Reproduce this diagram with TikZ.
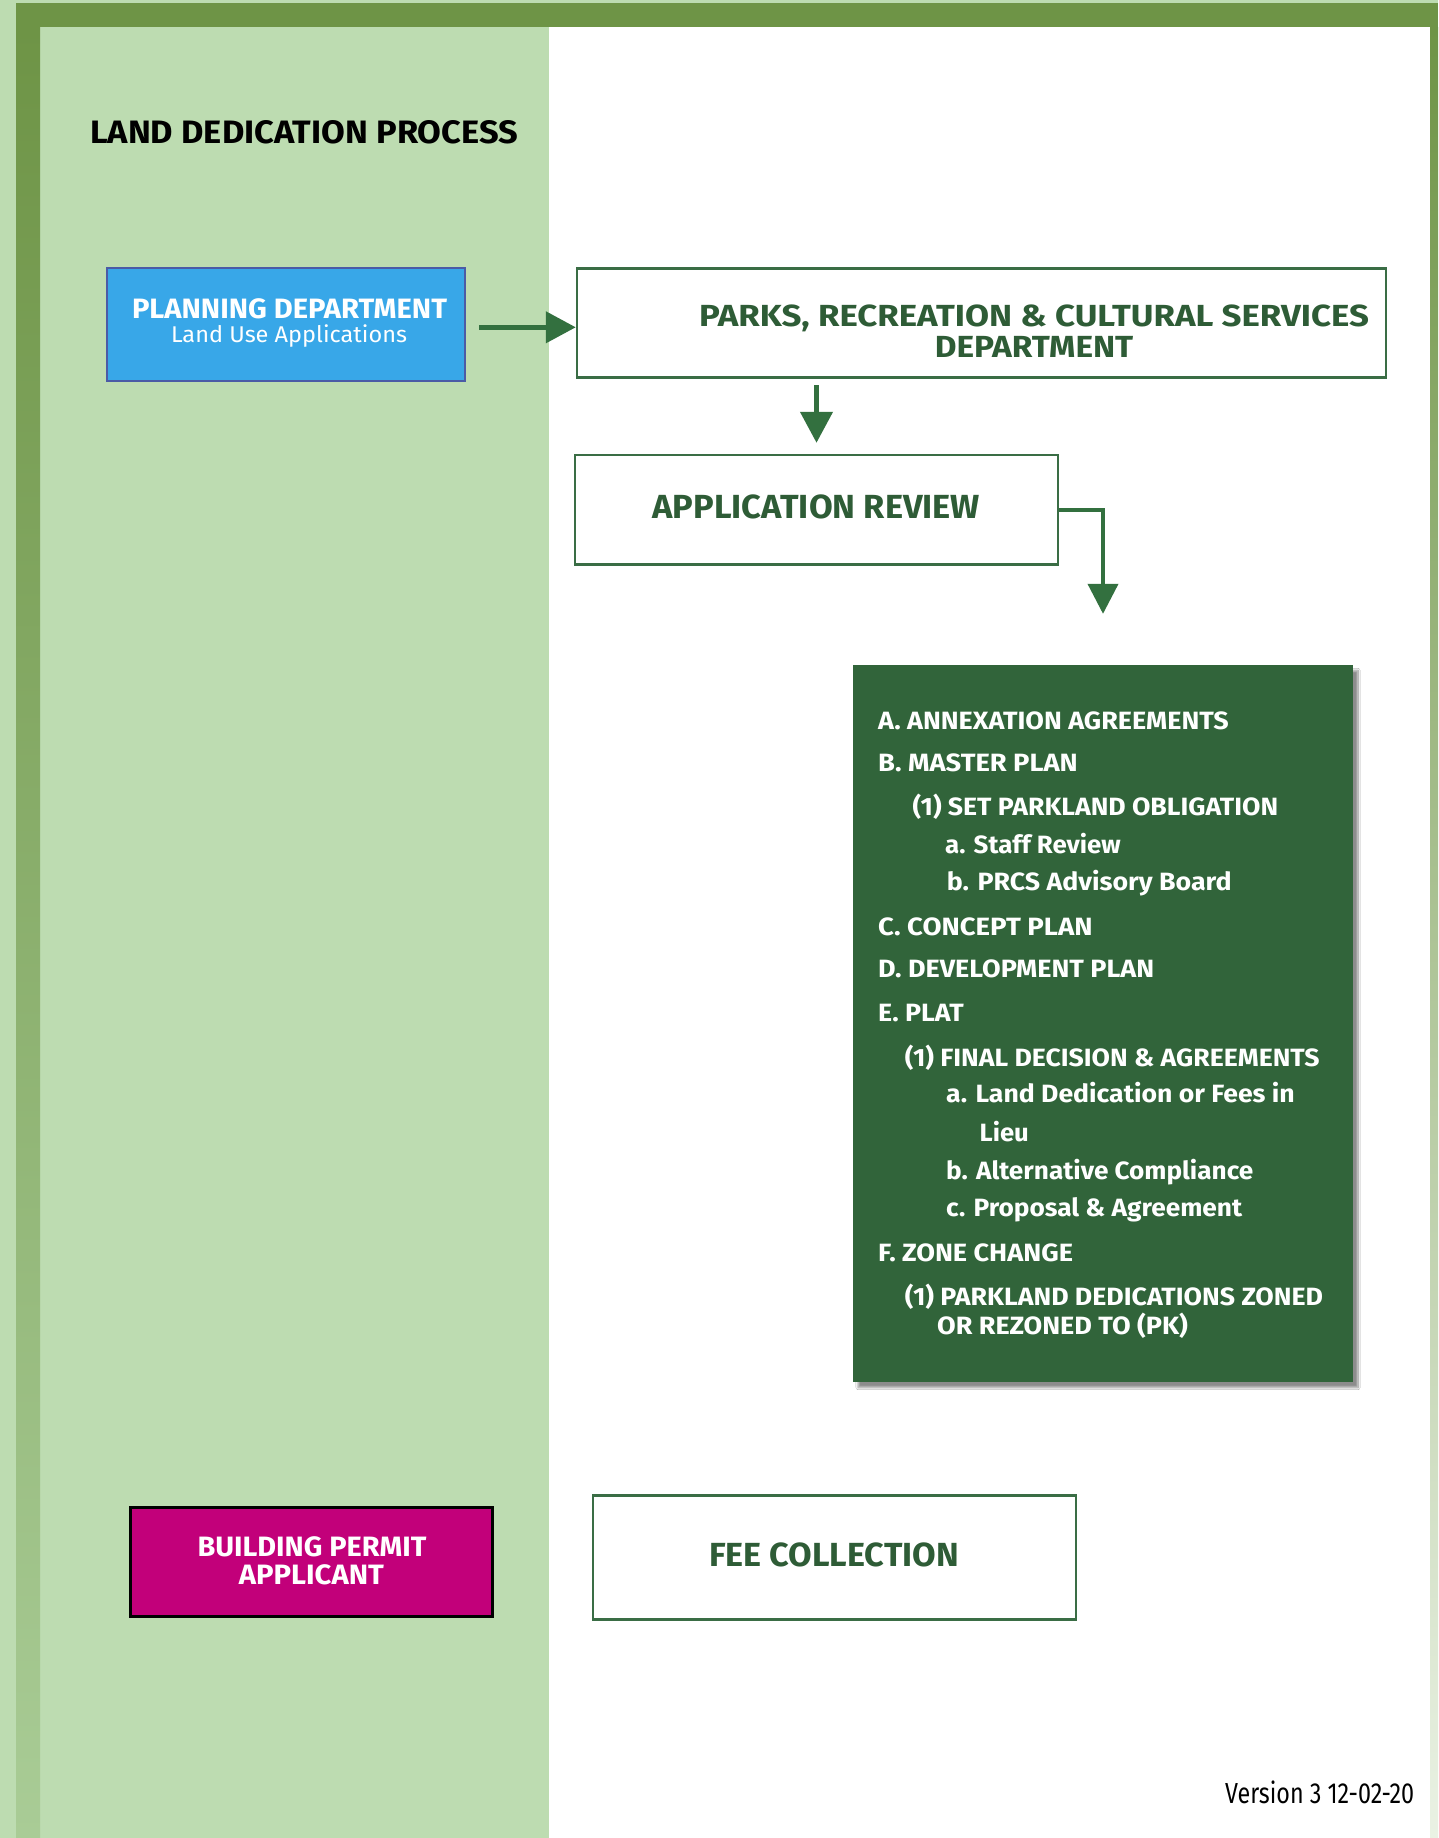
\documentclass[tikz,border=0pt]{standalone}
\usepackage{fontspec}
\setmainfont{Fira Sans}
\usepackage{graphicx}
\usetikzlibrary{arrows.meta,calc,shadows.blur}
\definecolor{lightg}{HTML}{BDDCB1}
\definecolor{barg}{HTML}{6E9446}
\definecolor{barlow}{HTML}{A9CC96}
\definecolor{barrlow}{HTML}{EAF2E4}
\definecolor{boxg}{HTML}{3A6D45}
\definecolor{arrg}{HTML}{33703F}
\definecolor{txtg}{HTML}{2E5C36}
\definecolor{listg}{HTML}{31643A}
\definecolor{planfill}{HTML}{38A7E8}
\definecolor{planedge}{HTML}{4B5BA6}
\definecolor{magenta}{HTML}{C2007A}
\newsavebox\fitbox
\newcommand\fitw[2]{\sbox\fitbox{#2}\pgfmathsetmacro\fitfac{#1/\wd\fitbox}\scalebox{\fitfac}[1]{\usebox\fitbox}}
\newcommand\fs[1]{\fontsize{#1}{#1}\selectfont}
\tikzset{
  box/.style={draw=boxg, line width=2.5pt, fill=white, inner sep=0pt},
  arr/.style={draw=arrg, line width=4.5pt, -{Triangle[length=30pt,width=31pt]}},
  t/.style={inner sep=0pt, anchor=base},
  tl/.style={inner sep=0pt, anchor=base west, text=white},
}
\begin{document}
\begin{tikzpicture}[x=1pt,y=-1pt]
\useasboundingbox (0,0) rectangle (1438,1838);
% backgrounds
\fill[white] (0,0) rectangle (1438,1838);
\fill[lightg] (0,0) rectangle (549,1838);
\fill[lightg] (0,0) rectangle (1438,3.3);
\fill[barg] (16,3.3) rectangle (1438,27.3);
\shade[top color=barg, bottom color=barlow] (16,27.3) rectangle (40,1838);
\shade[top color=barg, bottom color=barrlow] (1430,27.3) rectangle (1438,1838);

% title
\node[t, anchor=base west] (title) at (90,144) {\fitw{428}{\bfseries\fs{32.4}LAND DEDICATION PROCESS}};

% boxes
\node[draw=planedge, fill=planfill, line width=2pt, minimum width=358.3pt, minimum height=112.4pt, inner sep=0pt] (plan) at (285.85,324.5) {};
\node[box, minimum width=809pt, minimum height=109pt] (parks) at (981.5,322.8) {};
\node[box, minimum width=483pt, minimum height=109.3pt] (app) at (816.5,509.65) {};
\node[fill=listg, minimum width=500pt, minimum height=717pt, inner sep=0pt,
      blur shadow={shadow xshift=5pt, shadow yshift=-6pt, shadow opacity=45, shadow blur steps=10}] (list) at (1103,1023) {};
\node[draw=black, fill=magenta, line width=3pt, minimum width=361.4pt, minimum height=109.4pt, inner sep=0pt] (build) at (311.3,1562) {};
\node[box, minimum width=482.8pt, minimum height=123.6pt] (fee) at (834.4,1557.5) {};

% box texts
\node[t, text=white] (plan1) at (289.5,318.3) {\fitw{315}{\bfseries\fs{28}PLANNING DEPARTMENT}};
\node[t, text=white] (plan2) at (289,342.7) {\fitw{236}{\fs{22.8}Land Use Applications}};
\node[t, text=txtg] (parks1) at (1034,326) {\fitw{670}{\bfseries\fs{30.5}PARKS, RECREATION \& CULTURAL SERVICES}};
\node[t, text=txtg] (parks2) at (1034,357.7) {\fitw{198.5}{\bfseries\fs{30.5}DEPARTMENT}};
\node[t, text=txtg] (apptxt) at (816.3,518.3) {\fitw{327.6}{\bfseries\fs{33.4}APPLICATION REVIEW}};
\node[t, text=white] (build1) at (312,1556) {\fitw{229}{\bfseries\fs{28}BUILDING PERMIT}};
\node[t, text=white] (build2) at (311.4,1584) {\fitw{145}{\bfseries\fs{28}APPLICANT}};
\node[t, text=txtg] (feetxt) at (834,1566) {\fitw{250}{\bfseries\fs{33.4}FEE COLLECTION}};
\node[t, anchor=base west, text=black] (version) at (1225,1803.3) {\fitw{189}{\fs{29}Version 3 12-02-20}};

% list lines
\node[tl] (l1) at (878,729) {\fitw{350.5}{\bfseries\fs{25}A. ANNEXATION AGREEMENTS}};
\node[tl] (l2) at (878,771.7) {\fitw{199.6}{\bfseries\fs{25}B. MASTER PLAN}};
\node[tl] (l3) at (912.3,815) {\fitw{365.7}{\bfseries\fs{25}(1) SET PARKLAND OBLIGATION}};
\node[tl] (l4) at (945,853.3) {\fitw{175.6}{\bfseries\fs{25}a. Staff Review}};
\node[tl] (l5) at (946.7,890.7) {\fitw{284.8}{\bfseries\fs{25}b. PRCS Advisory Board}};
\node[tl] (l6) at (878,935) {\fitw{214.4}{\bfseries\fs{25}C. CONCEPT PLAN}};
\node[tl] (l7) at (878,977.7) {\fitw{276}{\bfseries\fs{25}D. DEVELOPMENT PLAN}};
\node[tl] (l8) at (878,1021) {\fitw{85.5}{\bfseries\fs{25}E. PLAT}};
\node[tl] (l9) at (904.7,1066) {\fitw{414.6}{\bfseries\fs{25}(1) FINAL DECISION \& AGREEMENTS}};
\node[tl] (l10) at (946,1102.7) {\fitw{348.5}{\bfseries\fs{25}a. Land Dedication or Fees in}};
\node[tl] (l11) at (979.5,1141.7) {\fitw{49.2}{\bfseries\fs{25}Lieu}};
\node[tl] (l12) at (946,1179.3) {\fitw{307}{\bfseries\fs{25}b. Alternative Compliance}};
\node[tl] (l13) at (946,1216.7) {\fitw{296}{\bfseries\fs{25}c. Proposal \& Agreement}};
\node[tl] (l14) at (878,1261.7) {\fitw{194.8}{\bfseries\fs{25}F. ZONE CHANGE}};
\node[tl] (l15) at (904.7,1305) {\fitw{418.1}{\bfseries\fs{25}(1) PARKLAND DEDICATIONS ZONED}};
\node[tl] (l16) at (937,1334) {\fitw{250.8}{\bfseries\fs{25}OR REZONED TO (PK)}};

% connectors
\draw[arr] ($(plan.east)+(13,2.8)$) -- ($(parks.west)+(0,4.5)$);
\draw[arr, -{Triangle[length=31pt,width=32pt]}] ($(parks.south -| app.north)+(0,6.7)$) -- ($(app.north)+(0,-11)$);
\draw[arr, line width=4pt, -{Triangle[length=30pt,width=30pt]}] (app.east) -| ($(list.north)+(0,-50.5)$);
\end{tikzpicture}
\end{document}
